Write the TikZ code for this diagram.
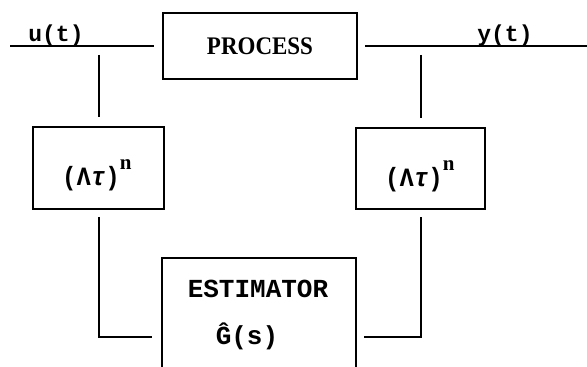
\documentclass[tikz,border=0pt]{standalone}
\usepackage{fontspec}
\newfontfamily\mono{Liberation Mono}
\newfontfamily\serifp{Liberation Serif}
\begin{document}
\begin{tikzpicture}[x=1pt,y=1pt,
  blk/.style={draw,line width=2pt,inner sep=0pt},
  wire/.style={line width=2pt},
  lab/.style={inner sep=0pt,font=\mono\bfseries\fontsize{23}{26}\selectfont},
  big/.style={inner sep=0pt,font=\mono\bfseries\fontsize{26}{30}\selectfont},
  flt/.style={inner sep=0pt,anchor=base west,font=\mono\bfseries\fontsize{24}{28}\selectfont}]
\clip (0,0) rectangle (587,367);
\fill[white] (0,0) rectangle (587,367);
% blocks
\node[blk,minimum width=194pt,minimum height=66pt] (proc) at (260,321)
  {\serifp\bfseries\fontsize{23}{26}\selectfont\scalebox{1}[1.1]{PROCESS}};
\node[blk,minimum width=131pt,minimum height=82pt] (fl) at (98.5,199) {};
\node[blk,minimum width=129pt,minimum height=81pt] (fr) at (420.5,198) {};
\node[flt] (fltxt) at (62,181)
  {\scalebox{1}[1.1]{(Λ\textit{τ})}\raisebox{16pt}{\serifp\fontsize{21}{24}\selectfont n}};
\node[flt] (frtxt) at (385,180)
  {\scalebox{1}[1.1]{(Λ\textit{τ})}\raisebox{16pt}{\serifp\fontsize{21}{24}\selectfont n}};
\node[blk,minimum width=194pt,minimum height=160pt,anchor=north] (est) at (259,110) {};
\node[big] (estt) at (258,78) {ESTIMATOR};
\node[big,anchor=base] (ghat) at (247,22) {\^G(s)};
% labels
\coordinate (uin) at (10,321);
\coordinate (yout) at (587,321);
\node[lab,anchor=south] (ulab) at (56,321) {u(t)};
\node[lab,anchor=south] (ylab) at (505,321) {y(t)};
% wires
\draw[wire] (uin) -- ([xshift=-8pt]proc.west);
\draw[wire] ([xshift=7pt]proc.east) -- (yout);
\coordinate (lt) at (98.5,312);
\coordinate (rt) at (420.5,312);
\coordinate (ll) at (0,30);
\draw[wire] (lt) -- ([yshift=9pt]lt |- fl.north);
\draw[wire] (rt) -- ([yshift=9pt]rt |- fr.north);
\draw[wire] ([yshift=-7pt]fl.south) |- ([xshift=-9pt]est.west |- ll);
\draw[wire] ([yshift=-7pt]fr.south) |- ([xshift=7pt]est.east |- ll);
\end{tikzpicture}
\end{document}
